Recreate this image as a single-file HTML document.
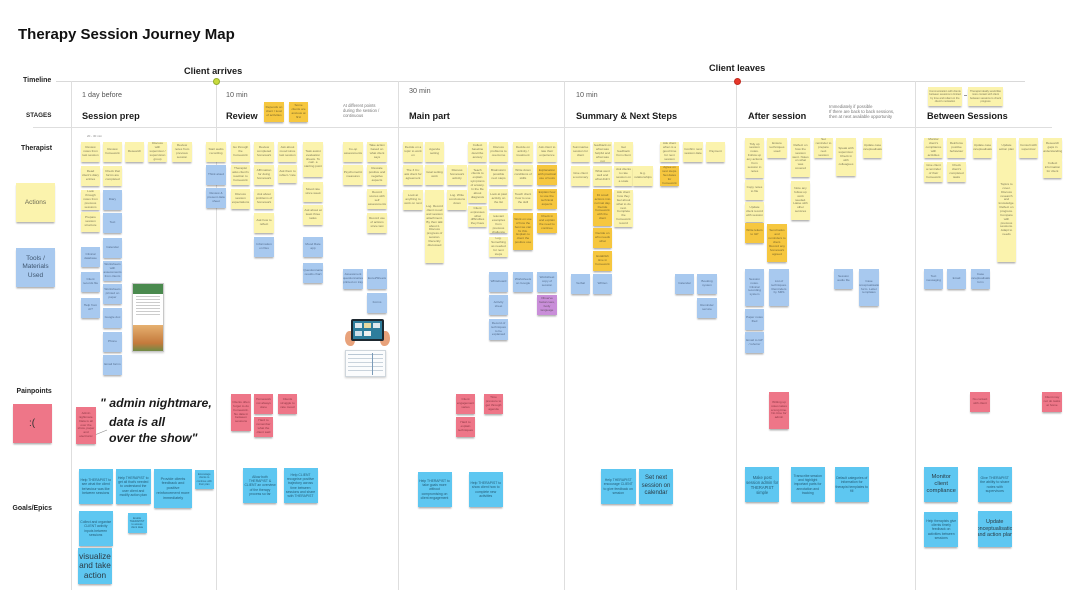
<!DOCTYPE html>
<html><head><meta charset="utf-8">
<style>
*{margin:0;padding:0;box-sizing:border-box}
html,body{width:1080px;height:612px;overflow:hidden;background:#fff}
body{position:relative;font-family:"Liberation Sans",Arial,sans-serif;color:#1b1b1b}
.t{position:absolute;white-space:nowrap}
.n{position:absolute;width:19px;height:20px;display:flex;align-items:center;justify-content:center;text-align:center;overflow:hidden;padding:1px;font-family:"Liberation Sans",sans-serif;font-size:3.1px;line-height:1.25;font-weight:normal;font-style:normal;color:rgba(40,40,30,.62);box-shadow:0 2px 1.6px -0.4px rgba(0,0,0,.33)}
.y{background:#fbf3ad}
.d{background:#f6c73f}
.b{background:#a8c9ef;color:rgba(20,40,70,.6)}
.p{background:#ee7688;color:rgba(70,10,20,.6)}
.c{background:#5ec7f1;color:rgba(10,40,60,.7);width:34px;height:35px;font-size:3.4px}
.v{background:#c98ed9}
.vl{position:absolute;width:1px;background:#dedede;top:81px;height:509px}
</style></head><body>

<div class="t" style="left:18px;top:27px;font-size:15px;line-height:15px;font-weight:bold;color:#111">Therapy Session Journey Map</div>

<!-- timeline -->
<div style="position:absolute;left:56px;top:80.5px;width:969px;height:1.3px;background:#d9d9d9"></div>
<div style="position:absolute;left:33px;top:127px;width:1019px;height:1px;background:#dedede"></div>
<div class="vl" style="left:71px"></div>
<div class="vl" style="left:216px"></div>
<div class="vl" style="left:398px"></div>
<div class="vl" style="left:564px"></div>
<div class="vl" style="left:736px"></div>
<div class="vl" style="left:915px"></div>
<div style="position:absolute;left:212.5px;top:77.5px;width:7px;height:7px;border-radius:50%;background:#c8da3c;border:1px solid #93ad2c"></div>
<div style="position:absolute;left:733.5px;top:77.5px;width:7px;height:7px;border-radius:50%;background:#e7372a;border:1px solid #c22a1e"></div>
<div class="t" style="left:184px;top:65.5px;font-size:9.2px;line-height:10px;font-weight:bold">Client arrives</div>
<div class="t" style="left:709px;top:62.5px;font-size:9.2px;line-height:10px;font-weight:bold">Client leaves</div>

<!-- left labels -->
<div class="t" style="left:23px;top:76px;font-size:7px;line-height:10px;font-weight:bold;color:#222">Timeline</div>
<div class="t" style="left:26px;top:111px;font-size:6.3px;line-height:10px;font-weight:bold;color:#222">STAGES</div>
<div class="t" style="left:21px;top:144px;font-size:6.9px;line-height:10px;font-weight:bold;color:#222">Therapist</div>
<div class="t" style="left:16.5px;top:386.5px;font-size:6.9px;line-height:10px;font-weight:bold;color:#222">Painpoints</div>
<div class="t" style="left:12.5px;top:503.5px;font-size:6.9px;line-height:10px;font-weight:bold;color:#222">Goals/Epics</div>
<div class="n y" style="left:16px;top:183px;width:39px;height:39px;font-size:6.5px;line-height:8px;color:#6b6a55">Actions</div>
<div class="n b" style="left:16px;top:248px;width:39px;height:39px;font-size:6.5px;line-height:8.5px;color:#3f5670">Tools /<br>Materials<br>Used</div>
<div class="n p" style="left:12.5px;top:404px;width:39px;height:39px;font-size:10px;line-height:10px;color:#333">:(</div>

<!-- stage titles -->
<div class="t" style="left:82px;top:111px;font-size:9.2px;line-height:10px;font-weight:bold">Session prep</div>
<div class="t" style="left:226px;top:111px;font-size:9.2px;line-height:10px;font-weight:bold">Review</div>
<div class="t" style="left:409px;top:111px;font-size:9.2px;line-height:10px;font-weight:bold">Main part</div>
<div class="t" style="left:576px;top:111px;font-size:9.2px;line-height:10px;font-weight:bold">Summary &amp; Next Steps</div>
<div class="t" style="left:748px;top:111px;font-size:9.2px;line-height:10px;font-weight:bold">After session</div>
<div class="t" style="left:927px;top:111px;font-size:9.2px;line-height:10px;font-weight:bold">Between Sessions</div>

<div class="t" style="left:82px;top:90px;font-size:7.2px;line-height:9px;color:#555">1 day before</div>
<div class="t" style="left:226px;top:90px;font-size:7.2px;line-height:9px;color:#555">10 min</div>
<div class="t" style="left:409px;top:86px;font-size:7.2px;line-height:9px;color:#555">30 min</div>
<div class="t" style="left:576px;top:90px;font-size:7.2px;line-height:9px;color:#555">10 min</div>
<div class="t" style="left:343px;top:104px;font-size:4.2px;line-height:4.8px;color:#777">At different points<br>during the session /<br>continuous</div>
<div class="t" style="left:829px;top:105px;font-size:4.3px;line-height:4.8px;color:#777">Immediately if possible<br>If there are back to back sessions,<br>then at next available opportunity</div>
<div class="t" style="left:87px;top:134px;font-size:3px;line-height:4px;color:#888">20 - 30 min</div>

<div class="n d" style="left:264px;top:102px;width:20px;height:20px">Depends on client / level of activities</div>
<div class="n d" style="left:289px;top:102px">Some clients are anxious at first</div>
<div class="n y" style="left:928px;top:87px;width:34px;height:19px;font-size:2.6px">Communication with clients between sessions is limited by time and reliant on the client's motivation</div>
<div class="t" style="left:963.5px;top:95px;width:3px;height:0.6px;background:#999"></div>
<div class="n y" style="left:968px;top:87px;width:35px;height:19px;font-size:2.6px">Therapist ideally would like more contact with client between sessions to check progress</div>

<!-- Session prep -->
<div class="n y" style="left:81px;top:142px">Review notes from last session</div>
<div class="n y" style="left:103px;top:142px">Review homework</div>
<div class="n y" style="left:125px;top:142px">Research</div>
<div class="n y" style="left:148px;top:142px">Discuss with supervisor / supervision group</div>
<div class="n y" style="left:172px;top:142px;width:20px">Review notes from previous session</div>
<div class="n y" style="left:81px;top:166px">Read client's diary entries</div>
<div class="n y" style="left:103px;top:166px">Check that forms are completed</div>
<div class="n y" style="left:81px;top:190px">Look through notes from previous sessions</div>
<div class="n b" style="left:103px;top:190px">Diary</div>
<div class="n y" style="left:81px;top:212px">Prepare session structure</div>
<div class="n b" style="left:103px;top:213px">Text</div>
<div class="n b" style="left:103px;top:238px">Calendar</div>
<div class="n b" style="left:103px;top:261px">Worksheets with assessments from clients</div>
<div class="n b" style="left:103px;top:284px">Worksheets printed on paper</div>
<div class="n b" style="left:103px;top:308px">Google doc</div>
<div class="n b" style="left:103px;top:332px">Phone</div>
<div class="n b" style="left:103px;top:355px">Email forms</div>
<div class="n b" style="left:81px;top:247px">Clinical database</div>
<div class="n b" style="left:81px;top:272px">Client records file</div>
<div class="n b" style="left:81px;top:298px">Help from AI?</div>
<!-- phone image -->
<div style="position:absolute;left:132px;top:283px;width:32px;height:69px;background:#fff;border:0.6px solid #c8c8c8;overflow:hidden;box-shadow:0 1px 2px rgba(0,0,0,.2)">
  <div style="height:10px;background:#4a8a4e"></div>
  <div style="margin:2px 3px;height:1px;background:#ccc"></div>
  <div style="margin:2px 3px;height:1px;background:#ccc"></div>
  <div style="margin:2px 3px;height:1px;background:#ccc"></div>
  <div style="margin:2px 3px;height:1px;background:#ccc"></div>
  <div style="margin:2px 3px;height:1px;background:#ccc"></div>
  <div style="margin:2px 3px;height:1px;background:#ccc"></div>
  <div style="margin:2px 3px;height:1px;background:#ccc"></div>
  <div style="position:absolute;left:0;bottom:0;width:32px;height:26px;background:linear-gradient(#e6b070,#c47a3c 70%,#6f8a45)"></div>
</div>

<!-- Review -->
<div class="n y" style="left:206px;top:142px;width:20px">Start audio recording</div>
<div class="n b" style="left:206px;top:165px;width:20px">Think aloud</div>
<div class="n b" style="left:206px;top:188px;width:20px">Review &amp; present data sheet</div>
<div class="n y" style="left:231px;top:142px">Go through the homework</div>
<div class="n y" style="left:231px;top:165px">Therapist asks client's reaction to homework</div>
<div class="n y" style="left:231px;top:189px">Discuss session expectations</div>
<div class="n y" style="left:254px;top:142px;width:20px">Review completed homework</div>
<div class="n y" style="left:254px;top:165px;width:20px">Affirmation for doing homework</div>
<div class="n y" style="left:254px;top:189px;width:20px">Ask about problems of homework</div>
<div class="n y" style="left:254px;top:213px;width:20px">Ask how to reflect</div>
<div class="n b" style="left:254px;top:237px;width:20px">Information on files</div>
<div class="n y" style="left:278px;top:142px">Ask about mood since last session</div>
<div class="n y" style="left:278px;top:165px;height:18px">Ask them to reflect / rate</div>
<div class="n y" style="left:303px;top:142px;width:20px;height:35px">Task assist evaluation sheets. To calc. a starting point</div>
<div class="n y" style="left:303px;top:182px;width:20px">Mood rate since week</div>
<div class="n y" style="left:303px;top:205px;width:20px">Ask about at least three tasks</div>
<div class="n b" style="left:303px;top:237px;width:20px">Mood Rate app</div>
<div class="n b" style="left:303px;top:263px;width:20px">Questionnaire results chart</div>
<div class="n y" style="left:343px;top:142px;width:20px">Co-op assessments</div>
<div class="n y" style="left:343px;top:165px;width:20px">Psychometric measures</div>
<div class="n b" style="left:343px;top:269px;width:20px">Assessment questionnaires printed on tray</div>
<div class="n y" style="left:367px;top:142px;width:20px">Take action based on what client says</div>
<div class="n y" style="left:367px;top:165px;width:20px">Rescale positive and negative aspects</div>
<div class="n y" style="left:367px;top:189px;width:20px">Record scores with self assessments</div>
<div class="n y" style="left:367px;top:213px;width:20px">Record use of actions since last</div>
<div class="n b" style="left:367px;top:269px;width:20px">Excel/Sheets</div>
<div class="n b" style="left:367px;top:293px;width:20px">Forms</div>
<!-- tablet -->
<div style="position:absolute;left:345px;top:318px;width:45px;height:28px">
  <div style="position:absolute;left:0;top:13px;width:10px;height:15px;border-radius:45% 30% 40% 50%;background:#e8a27b"></div>
  <div style="position:absolute;right:0;top:13px;width:10px;height:15px;border-radius:30% 45% 50% 40%;background:#e8a27b"></div>
  <div style="position:absolute;left:6px;top:1px;width:33px;height:22px;border-radius:2px;background:#1d2830;padding:2px">
    <div style="width:100%;height:100%;background:#2e7d9c;position:relative">
      <div style="position:absolute;left:2px;top:2px;width:7px;height:5px;background:#dfe9ee"></div>
      <div style="position:absolute;left:11px;top:2px;width:7px;height:5px;background:#e9d9a0"></div>
      <div style="position:absolute;left:20px;top:2px;width:7px;height:5px;background:#dfe9ee"></div>
      <div style="position:absolute;left:2px;top:10px;width:7px;height:5px;background:#cfe0ea"></div>
      <div style="position:absolute;left:11px;top:10px;width:7px;height:5px;background:#f0f0f0"></div>
    </div>
  </div>
</div>
<!-- table -->
<div style="position:absolute;left:345px;top:350px;width:41px;height:27px;background:#fbfcfd;border:0.6px solid #cfd6dc;box-shadow:0 1px 2px rgba(0,0,0,.2)">
  <div style="margin:3px 2px 0;height:1px;background:#b9c7d4"></div>
  <div style="margin:3px 2px 0;height:1px;background:#c9d3dc"></div>
  <div style="margin:3px 2px 0;height:1px;background:#c9d3dc"></div>
  <div style="margin:3px 2px 0;height:1px;background:#c9d3dc"></div>
  <div style="margin:3px 2px 0;height:1px;background:#c9d3dc"></div>
  <div style="position:absolute;left:26px;top:2px;width:1px;height:22px;background:#7a9ab8"></div>
</div>

<!-- Main part -->
<div class="n y" style="left:403px;top:142px;width:20px">Decide on a topic to work on</div>
<div class="n y" style="left:403px;top:165px;width:20px">The 3 Cs: ask client for agreement</div>
<div class="n y" style="left:403px;top:190px;width:20px">Look at anything to work on next</div>
<div class="n y" style="left:425px;top:142px">Agenda setting</div>
<div class="n y" style="left:425px;top:165px">Goal setting work</div>
<div class="n y" style="left:425px;top:190px;height:73px">Log. Record client mood and session attachment. By then talk about it. Discuss progress of session. Recently discussed</div>
<div class="n y" style="left:447px;top:165px;width:20px">Discuss homework activity</div>
<div class="n y" style="left:447px;top:190px;width:20px">Log. Write conclusions down</div>
<div class="n y" style="left:468px;top:142px">Collect baseline describe anxiety</div>
<div class="n y" style="left:468px;top:165px;height:38px">Teach clients to explain symptoms of anxiety. In the file about diagnosis</div>
<div class="n y" style="left:468px;top:206px;height:21px">Client expresses what difficulties they have</div>
<div class="n y" style="left:489px;top:142px">Discuss problems to overcome</div>
<div class="n y" style="left:489px;top:165px">Brainstorm possible next steps</div>
<div class="n y" style="left:489px;top:189px">Look at past activity on the list</div>
<div class="n y" style="left:489px;top:213px">Use relevant examples from previous challenge</div>
<div class="n y" style="left:489px;top:237px">Log. Something as needed for next steps</div>
<div class="n b" style="left:489px;top:272px">Whiteboard</div>
<div class="n b" style="left:489px;top:295px">Activity sheet</div>
<div class="n b" style="left:489px;top:319px;height:21px">Record of techniques to be explained</div>
<div class="n y" style="left:513px;top:142px;width:20px">Decide on activity / treatment</div>
<div class="n y" style="left:513px;top:165px;width:20px">Write down conditions of skills</div>
<div class="n y" style="left:513px;top:189px;width:20px">Teach client how to use the skill</div>
<div class="n d" style="left:513px;top:213px;width:20px;height:37px">Work on use of how the best we can fix this. Explain to client the positive use</div>
<div class="n b" style="left:513px;top:272px;width:20px">Worksheets on Google</div>
<div class="n y" style="left:537px;top:142px;width:20px">Ask client to rate their experience</div>
<div class="n d" style="left:537px;top:165px;width:20px">Explanation with practical use of tools</div>
<div class="n d" style="left:537px;top:189px;width:20px">Explain how to use the technical aspects</div>
<div class="n d" style="left:537px;top:213px;width:20px">Check in and explain the need to continue</div>
<div class="n b" style="left:537px;top:272px;width:20px">Worksheet copy of session</div>
<div class="n v" style="left:537px;top:295px;width:20px">Observe facial cues, body language</div>

<!-- Summary -->
<div class="n y" style="left:571px;top:142px">Summarise session for client</div>
<div class="n y" style="left:571px;top:166px">Give client a summary</div>
<div class="n b" style="left:571px;top:274px">Verbal</div>
<div class="n y" style="left:593px;top:142px">Get feedback on what was helpful and what was not</div>
<div class="n y" style="left:593px;top:166px">What went well and what didn't</div>
<div class="n d" style="left:593px;top:189px;height:37px">Fit small actions into normal day. Decide homework with the client</div>
<div class="n d" style="left:593px;top:228px">Decide on who needs what</div>
<div class="n d" style="left:593px;top:251px">Establish time in homework</div>
<div class="n b" style="left:593px;top:274px">Written</div>
<div class="n y" style="left:614px;top:142px">Get feedback from client</div>
<div class="n y" style="left:614px;top:166px">Ask clients to rate session on a scale</div>
<div class="n y" style="left:614px;top:190px;height:37px">Ask client how they feel about what to do next. Complete the homework record</div>
<div class="n y" style="left:633px;top:166px;width:20px">E.g. relationships</div>
<div class="n y" style="left:660px;top:142px">Ask client when is a good time for next session</div>
<div class="n d" style="left:660px;top:166px">Agree on next steps. Set dates for homework</div>
<div class="n y" style="left:683px;top:142px;width:20px">Confirm next session date</div>
<div class="n y" style="left:706px;top:142px">Payment</div>
<div class="n b" style="left:675px;top:274px">Calendar</div>
<div class="n b" style="left:697px;top:274px;width:20px">Booking system</div>
<div class="n b" style="left:697px;top:298px;width:20px">Reminder service</div>

<!-- After session -->
<div class="n y" style="left:745px;top:138px;height:40px">Tidy up session notes. Follow up any actions from session in notes</div>
<div class="n y" style="left:745px;top:180px">Copy notes to file</div>
<div class="n y" style="left:745px;top:202px">Update client record with session</div>
<div class="n d" style="left:745px;top:223px">Write letters to GP</div>
<div class="n b" style="left:745px;top:269px;height:37px">Session notes. Clinical recording system</div>
<div class="n b" style="left:745px;top:309px;height:21px">Paper notes filed</div>
<div class="n b" style="left:745px;top:332px;height:21px">Email to GP / referrer</div>
<div class="n y" style="left:767px;top:138px;width:20px">Ensure techniques used</div>
<div class="n d" style="left:767px;top:224px;width:20px;height:38px">Send tasks and reminders to client. Record any homework agreed</div>
<div class="n b" style="left:769px;top:269px;width:20px;height:37px">List of techniques. Reminders by SMS</div>
<div class="n y" style="left:791px;top:138px;height:39px">Reflect on how the session went. Notes on what was covered</div>
<div class="n y" style="left:791px;top:181px;height:39px">Note any follow-up work needed. Liaise with other services</div>
<div class="n y" style="left:814px;top:138px">Set reminder to prepare next session</div>
<div class="n y" style="left:836px;top:138px;width:20px;height:38px">Speak with supervisor. Check in with colleagues</div>
<div class="n y" style="left:863px;top:138px">Update case conceptualisation</div>
<div class="n b" style="left:834px;top:269px">Session audio file</div>
<div class="n b" style="left:859px;top:269px;width:20px;height:37px">Case conceptualisation form. Letter templates</div>

<!-- Between sessions -->
<div class="n y" style="left:924px;top:138px">Monitor client's compliance with activities</div>
<div class="n y" style="left:924px;top:162px">Give client a reminder of their homework</div>
<div class="n b" style="left:924px;top:269px">Text messaging</div>
<div class="n y" style="left:947px;top:138px">Reinforce positive behaviour</div>
<div class="n y" style="left:947px;top:162px">Check client's completed tasks</div>
<div class="n b" style="left:947px;top:269px">Email</div>
<div class="n y" style="left:973px;top:138px">Update case conceptualisation</div>
<div class="n b" style="left:971px;top:269px">Case conceptualisation form</div>
<div class="n y" style="left:997px;top:138px">Update action plan</div>
<div class="n y" style="left:997px;top:158px;height:104px">Topics to cover. Discuss research and knowledge. Reflect on progress. Compare with previous sessions. Adapt to needs</div>
<div class="n y" style="left:1019px;top:138px">Consult with supervisor</div>
<div class="n y" style="left:1043px;top:138px">Research gaps in understanding</div>
<div class="n y" style="left:1043px;top:158px">Collect information for client</div>

<!-- Painpoints -->
<div class="n p" style="left:76px;top:407px;width:20px;height:37px">Admin nightmare. Data is all over the show, paper and electronic</div>
<div class="n p" style="left:231px;top:394px;width:20px;height:37px">Clients often forget to do homework. No data in between sessions</div>
<div class="n p" style="left:254px;top:394px">Homework not always done</div>
<div class="n p" style="left:254px;top:417px">Hard to remember what the client said</div>
<div class="n p" style="left:278px;top:394px">Clients struggle to rate mood</div>
<div class="n p" style="left:456px;top:394px">Client engagement varies</div>
<div class="n p" style="left:456px;top:417px">Hard to explain techniques</div>
<div class="n p" style="left:484px;top:394px">Time pressure to get through agenda</div>
<div class="n p" style="left:769px;top:392px;width:20px;height:37px">Writing up notes takes a long time. No time for admin</div>
<div class="n p" style="left:970px;top:392px;width:20px">No contact with client</div>
<div class="n p" style="left:1042px;top:392px;width:20px">Client may not do tasks at home</div>

<!-- quote -->
<div class="t" style="left:100px;top:394px;font-size:12.3px;line-height:18px;font-weight:bold;font-style:italic;color:#1a1a1a">" admin nightmare,</div>
<div class="t" style="left:109px;top:412.5px;font-size:12.3px;line-height:18px;font-weight:bold;font-style:italic;color:#1a1a1a">data is all</div>
<div class="t" style="left:109px;top:429px;font-size:12.3px;line-height:18px;font-weight:bold;font-style:italic;color:#1a1a1a">over the show"</div>
<svg style="position:absolute;left:0;top:0" width="1080" height="612"><line x1="96" y1="434.5" x2="107" y2="430" stroke="#888" stroke-width="0.6"/></svg>

<!-- Goals -->
<div class="n c" style="left:78.5px;top:469px;width:34.5px">Help THERAPIST to see what the client behaviour was like between sessions</div>
<div class="n c" style="left:116px;top:469px;width:34.5px">Help THERAPIST to get all that's needed to understand the user client and modify action plan</div>
<div class="n c" style="left:154px;top:469px;width:38px;height:39px;font-size:3.8px">Provide clients feedback and positive reinforcement more immediately</div>
<div class="n c" style="left:195px;top:470px;width:18.5px;height:19px;font-size:2.6px">Encourage clients to continue with their plan</div>
<div class="n c" style="left:78.5px;top:511px;width:34.5px">Collect and organise CLIENT activity inputs between sessions</div>
<div class="n c" style="left:127.5px;top:513px;width:19px;height:20px;font-size:2.6px">Enable THERAPIST to access client data</div>
<div class="n c" style="left:78px;top:548px;width:34px;height:36px;font-size:8.3px;line-height:9.4px;color:#2a3a44">visualize and take action</div>
<div class="n c" style="left:243px;top:468px">Allow both THERAPIST &amp; CLIENT an overview of the therapy process so far</div>
<div class="n c" style="left:283.5px;top:468px">Help CLIENT recognise positive trajectory across time between sessions and share with THERAPIST</div>
<div class="n c" style="left:417.5px;top:472px">Help THERAPIST to take goals more without compromising on client engagement</div>
<div class="n c" style="left:468.5px;top:472px;width:34.5px">Help THERAPIST to show client how to complete new activities</div>
<div class="n c" style="left:601px;top:469px;width:34.5px">Help THERAPIST encourage CLIENT to give feedback on session</div>
<div class="n c" style="left:639px;top:469px;font-size:6px;line-height:7.4px;color:#2a3a44">Set next session on calendar</div>
<div class="n c" style="left:745px;top:467px;width:34.4px;font-size:4.1px;line-height:5px">Make post session admin for THERAPIST simple</div>
<div class="n c" style="left:790.5px;top:467px;width:34.5px">Transcribe session and highlight important parts for annotation and tracking</div>
<div class="n c" style="left:834.5px;top:467px;width:34.5px">Default categories of information for therapist templates to fill</div>
<div class="n c" style="left:924px;top:467px;width:34.4px;font-size:5.8px;line-height:7.2px;color:#2a3a44">Monitor client compliance</div>
<div class="n c" style="left:977.5px;top:467px;width:34.5px;font-size:3.6px">Give THERAPIST the ability to share notes with supervisors</div>
<div class="n c" style="left:924px;top:512px;width:34.4px">Help therapists give clients timely feedback on activities between sessions</div>
<div class="n c" style="left:977.5px;top:511px;width:34.5px;height:36px;font-size:5.4px;line-height:6.8px;color:#2a3a44">Update conceptualisation and action plan</div>

</body></html>
